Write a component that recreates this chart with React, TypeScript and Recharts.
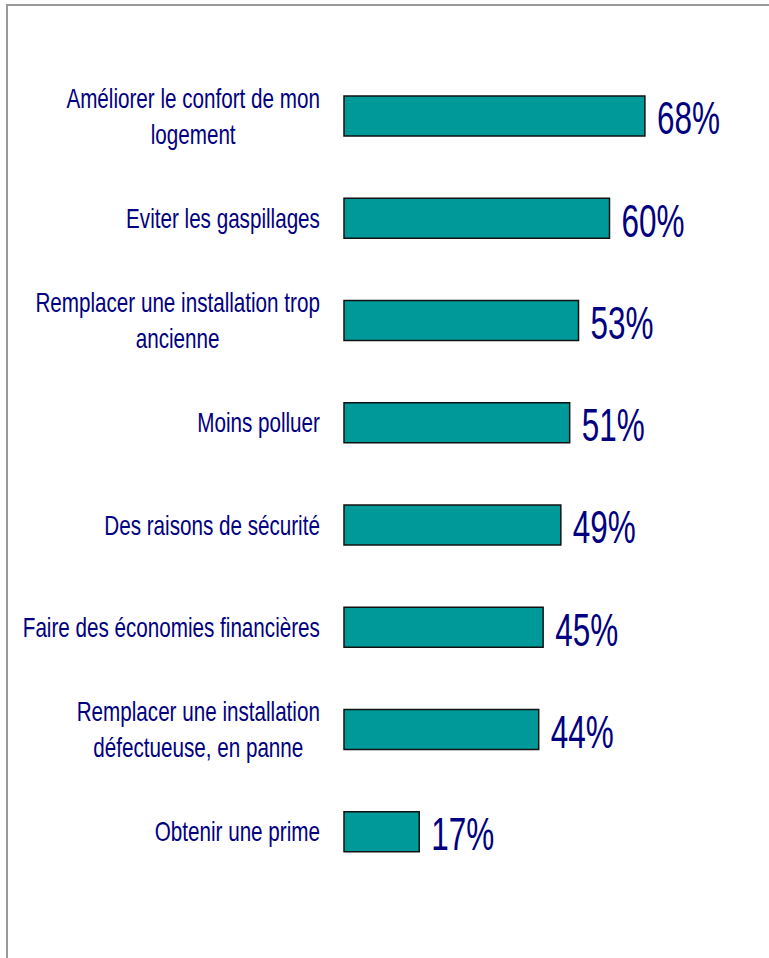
import React from "react";
import { BarChart, Bar, XAxis, YAxis, LabelList } from "recharts";

const categories: string[] = [
  "Améliorer le confort de mon\nlogement",
  "Eviter les gaspillages",
  "Remplacer une installation trop\nancienne",
  "Moins polluer",
  "Des raisons de sécurité",
  "Faire des économies financières",
  "Remplacer une installation\ndéfectueuse, en panne",
  "Obtenir une prime",
];
const values: number[] = [68, 60, 53, 51, 49, 45, 44, 17];

const data = categories.map((c, i) => ({ name: c, value: values[i] }));

const FONT = "'Liberation Sans', Arial, sans-serif";
const NAVY = "#000080";
const CAT_SIZE = 27;
const CAT_SX = 0.765;
const VAL_SIZE = 47;
const VAL_SX = 0.67;

let ctx: CanvasRenderingContext2D | null = null;
function measure(text: string, size: number): number {
  if (!ctx && typeof document !== "undefined") {
    ctx = document.createElement("canvas").getContext("2d");
  }
  if (!ctx) return text.length * size * 0.5;
  ctx.font = `${size}px 'Liberation Sans', Arial, sans-serif`;
  return ctx.measureText(text).width;
}

const CategoryTick = (props: any) => {
  const { x, y, payload } = props;
  const lines: string[] = String(payload.value).split("\n");
  const lh = 36;
  const start = -((lines.length - 1) * lh) / 2;
  const maxW = Math.max(...lines.map((l) => measure(l, CAT_SIZE))) * CAT_SX;
  const cx = x - maxW / 2;
  return (
    <g>
      {lines.map((l, i) => (
        <text
          key={i}
          transform={`translate(${cx} ${y + start + i * lh}) scale(${CAT_SX} 1)`}
          x={0}
          y={0}
          textAnchor="middle"
          dominantBaseline="central"
          fill={NAVY}
          fontFamily={FONT}
          fontSize={CAT_SIZE}
        >
          {l}
        </text>
      ))}
    </g>
  );
};

const ValueLabel = (props: any) => {
  const { x, y, width, height, value } = props;
  return (
    <text
      transform={`translate(${x + width + 12} ${y + height / 2 + 2}) scale(${VAL_SX} 1)`}
      x={0}
      y={0}
      dominantBaseline="central"
      fill={NAVY}
      fontFamily={FONT}
      fontSize={VAL_SIZE}
    >
      {value}%
    </text>
  );
};

export default function App() {
  return (
    <div style={{ position: "absolute", left: 0, top: 0, width: 769, height: 958, background: "#fff", overflow: "hidden" }}>
      <div
        style={{
          position: "absolute",
          left: 6,
          top: 4,
          width: 800,
          height: 1000,
          borderLeft: "2px solid #999",
          borderTop: "2px solid #999",
        }}
      />
      <BarChart
        width={769}
        height={958}
        data={data}
        layout="vertical"
        margin={{ top: 65, right: 71, bottom: 75, left: 0 }}
        style={{ position: "absolute", left: 0, top: 0 }}
      >
        <XAxis type="number" domain={[0, 80]} hide />
        <YAxis
          type="category"
          dataKey="name"
          width={344}
          axisLine={false}
          tickLine={false}
          tickSize={0}
          tickMargin={24}
          tick={<CategoryTick />}
          interval={0}
        />
        <Bar
          dataKey="value"
          fill="#009999"
          stroke="#111"
          strokeWidth={1.5}
          barSize={40}
          isAnimationActive={false}
        >
          <LabelList dataKey="value" content={<ValueLabel />} />
        </Bar>
      </BarChart>
    </div>
  );
}
